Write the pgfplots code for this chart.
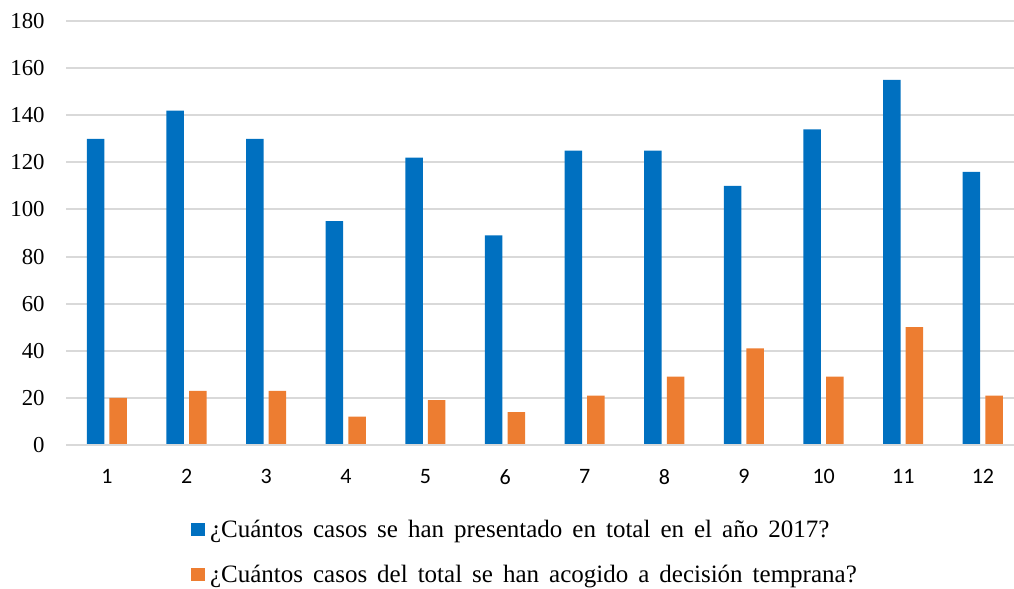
\documentclass[border=0pt]{standalone}
\usepackage{fontspec}
\setmainfont{Liberation Serif}
\newfontfamily\carlito{Carlito}
\newfontfamily\legfont[WordSpace=1.6]{Liberation Serif}
\usepackage{pgfplots}
\pgfplotsset{compat=1.18}
\definecolor{cblue}{HTML}{0070C0}
\definecolor{corange}{HTML}{ED7D31}
\definecolor{gridgray}{HTML}{D9D9D9}
\begin{document}
\begin{tikzpicture}
\begin{axis}[
  scale only axis,
  width=474pt, height=212pt,
  xmin=0.485, xmax=12.39,
  ymin=0, ymax=180,
  ytick={0,20,...,180},
  xtick={1,...,12},
  /pgf/number format/assume math mode=true,
  axis line style={draw=none},
  axis x line*=bottom,
  ymajorgrids,
  grid style={gridgray, line width=1pt},
  major tick length=0pt,
  yticklabel style={font=\fontsize{11.4}{13}\selectfont, inner sep=0pt, anchor=east, xshift=-10.5pt},
  xticklabel style={font=\carlito\fontsize{11}{12}\selectfont, inner sep=0pt, anchor=north, yshift=-12pt},
  bar width=0.22,
  legend style={
    at={(0.1319,-0.1816)}, anchor=north west,
    draw=none, fill=none, inner sep=0pt, outer sep=0pt,
    font=\legfont\fontsize{12.5}{15}\selectfont,
    nodes={inner sep=0pt, text height=8pt, text depth=2.5pt},
    row sep=12pt, column sep=2.5pt,
  },
  legend cell align=left,
  legend image code/.code={\fill[#1] (0pt,-1.75pt) rectangle (7pt,4.75pt);},
  clip=false,
]
\addplot[ybar, bar shift=-0.144, fill=cblue, draw=none] coordinates {
(1,130) (2,142) (3,130) (4,95) (5,122) (6,89) (7,125) (8,125) (9,110) (10,134) (11,155) (12,116)};
\addplot[ybar, bar shift=0.14, fill=corange, draw=none] coordinates {
(1,20) (2,23) (3,23) (4,12) (5,19) (6,14) (7,21) (8,29) (9,41) (10,29) (11,50) (12,21)};
\draw[gridgray, line width=1pt] (axis cs:0.485,0) -- (axis cs:12.39,0);
\legend{¿Cuántos casos se han presentado en total en el año 2017?, ¿Cuántos casos del total se han acogido a decisión temprana?}
\end{axis}
\pgfresetboundingbox
\path (-33pt,-72pt) rectangle (474pt,222.5pt);
\end{tikzpicture}
\end{document}
